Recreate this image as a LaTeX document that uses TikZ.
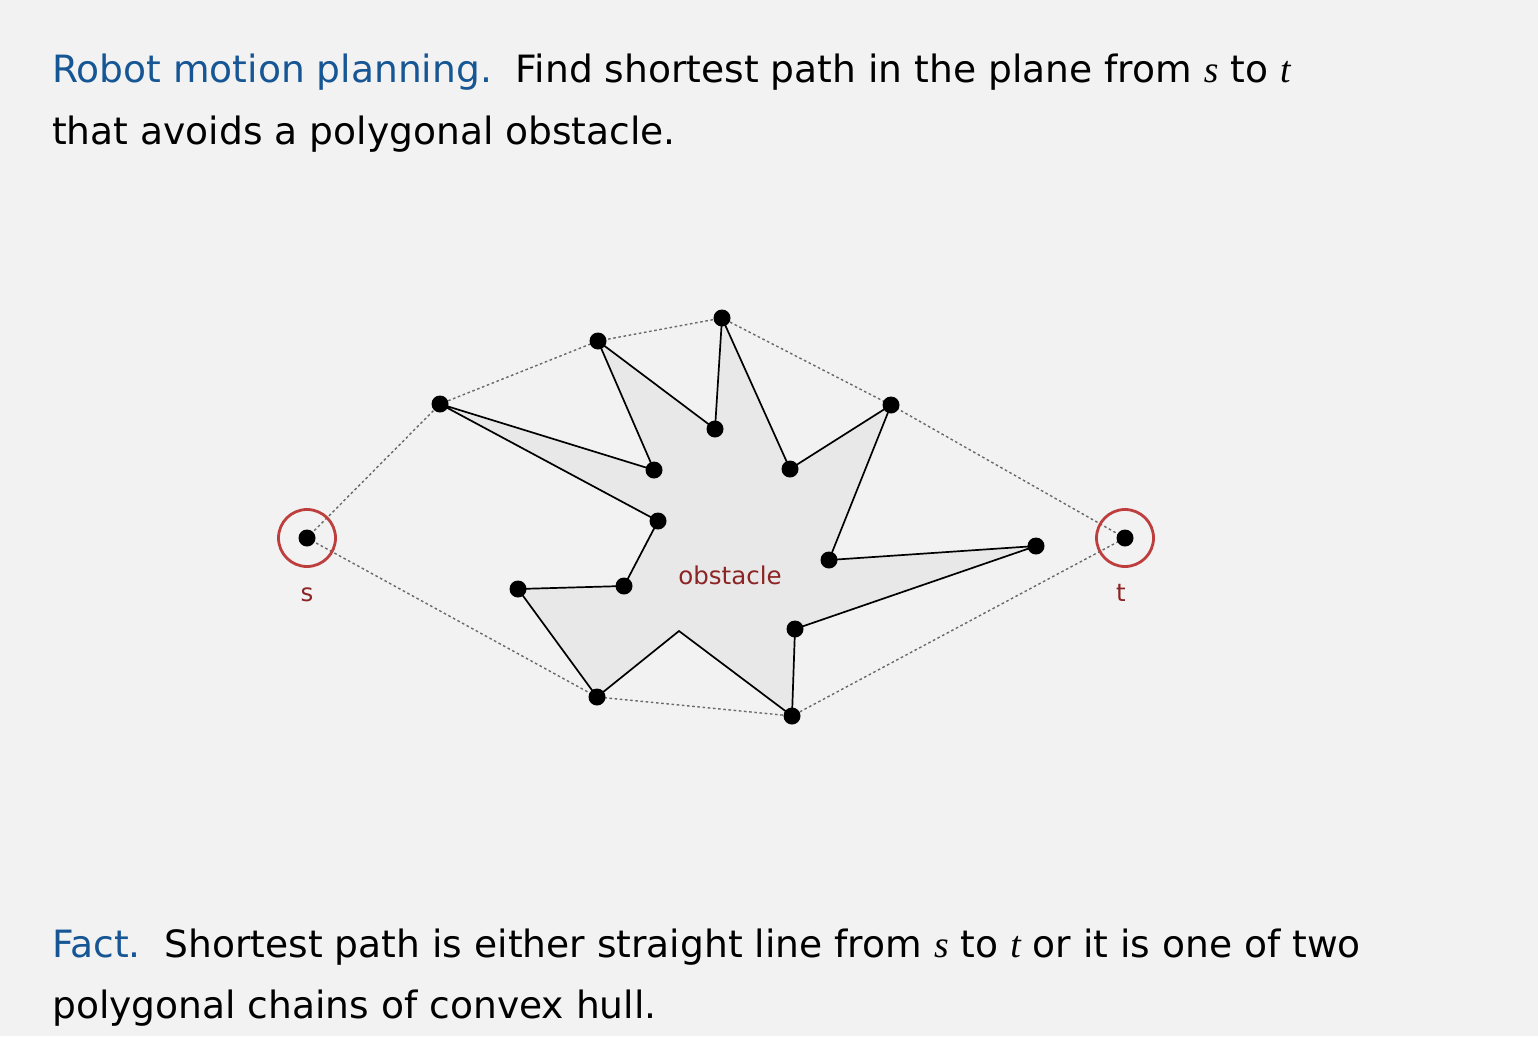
\documentclass[tikz,border=0pt]{standalone}
\usepackage{fontspec}
\setmainfont{DejaVu Sans}
\newfontfamily\varfont{Liberation Serif}
\definecolor{bg}{RGB}{242,242,242}
\definecolor{obsfill}{RGB}{232,232,232}
\definecolor{headblue}{RGB}{22,86,148}
\definecolor{ringred}{RGB}{190,62,62}
\definecolor{labelred}{RGB}{140,36,36}
\definecolor{hullgray}{RGB}{105,105,105}
\newcommand{\vs}{{\varfont\itshape s}}
\newcommand{\vt}{{\varfont\itshape t}}
\begin{document}
\begin{tikzpicture}[x=1pt,y=-1pt,
  vdot/.style={circle,fill=black,inner sep=0pt,minimum size=17pt},
  edge/.style={black,line width=1.7pt},
  hull/.style={hullgray,line width=1.4pt,dash pattern=on 2.6pt off 2.6pt},
  ring/.style={circle,draw=ringred,line width=2.8pt,minimum size=57pt,inner sep=0pt},
  bodytext/.style={anchor=base west,inner sep=0pt,font=\fontsize{37.6}{44}\selectfont},
  smalllabel/.style={text=labelred,inner sep=0pt,font=\fontsize{24.5}{28}\selectfont}]
\fill[bg] (0,0) rectangle (1538,1036);
\useasboundingbox (0,0) rectangle (1538,1036);

% heading text
\node[bodytext] (h1) at (52,82) {\textcolor{headblue}{Robot motion planning.}\ \ Find shortest path in the plane from \vs{} to \vt};
\node[bodytext] (h2) at (52,144) {that avoids a polygonal obstacle.};

% obstacle vertices
\coordinate (A) at (440,404);
\coordinate (B) at (654,470);
\coordinate (C) at (598,341);
\coordinate (D) at (715,429);
\coordinate (E) at (722,318);
\coordinate (F) at (790,469);
\coordinate (G) at (891,405);
\coordinate (H) at (829,560);
\coordinate (I) at (1036,546);
\coordinate (J) at (795,629);
\coordinate (K) at (792,716);
\coordinate (L) at (679,631);
\coordinate (M) at (597,697);
\coordinate (N) at (518,589);
\coordinate (O) at (624,586);
\coordinate (P) at (658,521);
\coordinate (S) at (307,538);
\coordinate (T) at (1125,538);

% obstacle body
\fill[obsfill] (A) -- (B) -- (C) -- (D) -- (E) -- (F) -- (G) -- (H) -- (I) -- (J) -- (K) -- (L) -- (M) -- (N) -- (O) -- (P) -- cycle;
\draw[edge,line join=miter] (A) -- (B) -- (C) -- (D) -- (E) -- (F) -- (G) -- (H) -- (I) -- (J) -- (K) -- (L) -- (M) -- (N) -- (O) -- (P) -- cycle;

% convex hull chains
\draw[hull] (S) -- (A) -- (C) -- (E) -- (G) -- (T);
\draw[hull] (S) -- (M) -- (K) -- (T);

% vertex dots
\foreach \p in {A,B,C,D,E,F,G,H,I,J,K,M,N,O,P,S,T}
  \node[vdot] (d\p) at (\p) {};

% endpoints
\node[ring] (ringS) at (S) {};
\node[ring] (ringT) at (T) {};
\node[smalllabel,anchor=base] (labS) at (307,601) {s};
\node[smalllabel,anchor=base] (labT) at (1121,601) {t};
\node[smalllabel,anchor=base] (labO) at (730,584) {obstacle};

% closing statement
\node[bodytext] (f1) at (52,957) {\textcolor{headblue}{Fact.}\ \ Shortest path is either straight line from \vs{} to \vt{} or it is one of two};
\node[bodytext] (f2) at (52,1018) {polygonal chains of convex hull.};
\end{tikzpicture}
\end{document}
